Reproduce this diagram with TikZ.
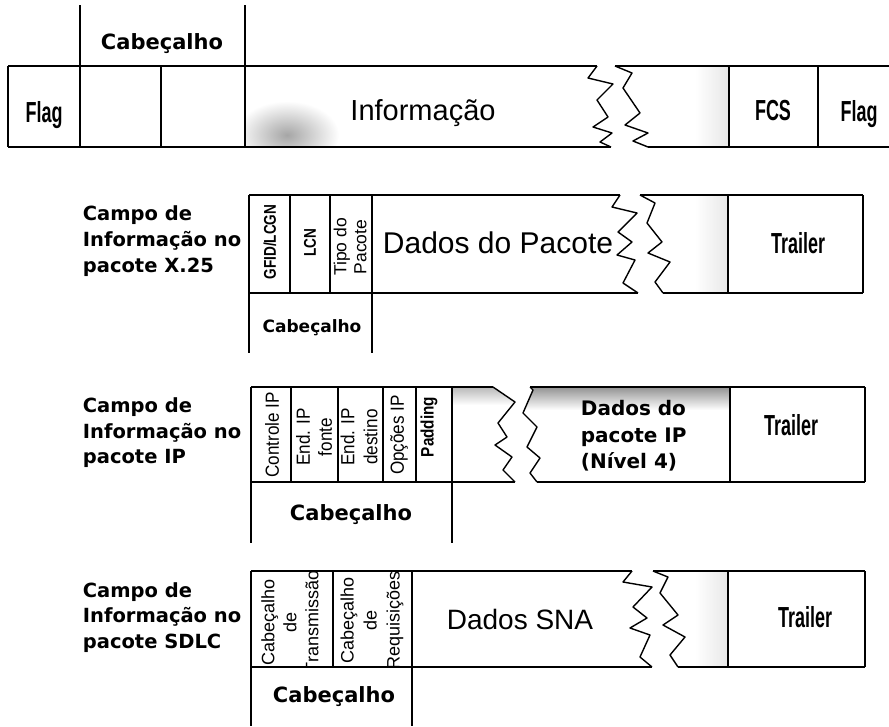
\documentclass[tikz,border=0pt]{standalone}
\usepackage{fontspec}
\usepackage{graphicx}
\setmainfont{Liberation Sans}
\newfontfamily\djfont{DejaVu Sans}
\newcommand\cnd[2][0.85]{\scalebox{#1}[1]{#2}}
\begin{document}
\begin{tikzpicture}[x=1pt,y=-1pt,line width=1.8pt,
  box/.style={line width=1.8pt},
  zig/.style={line width=1.4pt,line join=round},
  lbl/.style={font=\djfont\bfseries\fontsize{19.5}{24}\selectfont,anchor=base west,inner sep=0},
  cab/.style={font=\djfont\bfseries\fontsize{21}{25}\selectfont,anchor=base,inner sep=0},
  cabs/.style={font=\djfont\bfseries\fontsize{17}{20}\selectfont,anchor=base,inner sep=0},
  big/.style={font=\fontsize{29}{34}\selectfont,anchor=base,inner sep=0},
  cond/.style={font=\bfseries\fontsize{29}{33}\selectfont,anchor=base,inner sep=0},
  vbold/.style={rotate=90,inner sep=0,font=\bfseries\fontsize{17}{20}\selectfont},
  vreg/.style={rotate=90,inner sep=0,align=center},
]
\useasboundingbox (0,0) rectangle (889,726);

% ---------- shadings (scan tones) ----------
\begin{scope}
  \clip (245,66) rectangle (597,147);
  \shade[inner color=gray!70,outer color=white] (287,135) ellipse (52 and 34);
\end{scope}
\shade[left color=white,right color=gray!18,draw=none] (695,67) rectangle (728,146);
\shade[left color=white,right color=gray!18,draw=none] (695,196) rectangle (727,292);
\shade[left color=white,right color=gray!18,draw=none] (695,572) rectangle (727,666);
\begin{scope}
  \clip (530,387)--(730,387)--(730,482)--(537,482)--(530,473)--(540,458)--(527,447)--(537,427)--(523,413)--(533,390)--cycle;
  \shade[top color=gray!85,bottom color=white] (520,387) rectangle (730,410);
\end{scope}
\begin{scope}
  \clip (452,387)--(493,387)--(515,402)--(498,423)--(507,437)--(495,445)--(512,457)--(503,470)--(515,482)--(452,482)--cycle;
  \shade[top color=gray!55,bottom color=white] (452,387) rectangle (520,405);
\end{scope}

% ---------- row 1: frame ----------
\draw[box] (8,66) -- (597,66);
\draw[box] (8,147) -- (611,147);
\draw[box] (8,66) -- (8,147);
\draw[box] (615,66) -- (889,66);
\draw[box] (648,147) -- (889,147);
\draw[zig] (597,66)--(588,78)--(613,84)--(597,100)--(608,117)--(593,127)--(612,133)--(600,142)--(611,147);
\draw[zig] (615,66)--(632,73)--(623,88)--(640,113)--(625,125)--(648,133)--(633,141)--(648,147);
\draw[box] (80,5) -- (80,147);
\draw[box] (161,66) -- (161,147);
\draw[box] (245,5) -- (245,147);
\draw[box] (729,66) -- (729,147);
\draw[box] (818,66) -- (818,147);

\node[cab] (cab0) at (162,49) {Cabeçalho};
\node[cond] (flagL) at (44,122) {\cnd[0.62]{Flag}};
\node[big] (info) at (423,120) {Informação};
\node[cond] (fcs) at (773,120) {\cnd[0.62]{FCS}};
\node[cond] (flagR) at (859,121) {\cnd[0.62]{Flag}};

% ---------- row 2: X.25 ----------
\draw[box] (249,195) -- (620,195);
\draw[box] (640,195) -- (863,195);
\draw[box] (249,293) -- (638,293);
\draw[box] (663,293) -- (863,293);
\draw[zig] (620,195)--(612,207)--(637,213)--(618,232)--(632,242)--(617,255)--(635,260)--(623,283)--(638,293);
\draw[zig] (640,195)--(655,203)--(647,223)--(662,242)--(648,253)--(670,262)--(655,282)--(663,293);
\draw[box] (249,195) -- (249,353);
\draw[box] (290,195) -- (290,293);
\draw[box] (330,195) -- (330,293);
\draw[box] (372,195) -- (372,353);
\draw[box] (728,195) -- (728,293);
\draw[box] (863,195) -- (863,293);

\node[lbl] (l2a) at (82,220) {Campo de};
\node[lbl] (l2b) at (82,246) {Informação no};
\node[lbl] (l2c) at (82,272) {pacote X.25};
\node[vbold] (gfid) at (270,242) {\cnd[0.8]{GFID/LCGN}};
\node[vbold] (lcn) at (310,243) {\cnd[0.8]{LCN}};
\node[vreg,font=\fontsize{17.5}{20}\selectfont] (tipo) at (350,247) {Tipo do\\Pacote};
\node[big,font=\fontsize{30}{34}\selectfont] (dados2) at (498,253) {Dados do Pacote};
\node[cond] (tr2) at (798,253) {\cnd[0.62]{Trailer}};
\node[cabs] (cab2) at (312,332) {Cabeçalho};

% ---------- row 3: IP ----------
\draw[box] (251,387) -- (493,387);
\draw[box] (530,387) -- (865,387);
\draw[box] (251,482) -- (515,482);
\draw[box] (537,482) -- (865,482);
\draw[zig] (493,387)--(515,402)--(498,423)--(507,437)--(495,445)--(512,457)--(503,470)--(515,482);
\draw[zig] (530,387)--(533,390)--(523,413)--(537,427)--(527,447)--(540,458)--(530,473)--(537,482);
\draw[box] (251,387) -- (251,543);
\draw[box] (291,387) -- (291,482);
\draw[box] (338,387) -- (338,482);
\draw[box] (383,387) -- (383,482);
\draw[box] (416,387) -- (416,482);
\draw[box] (452,387) -- (452,543);
\draw[box] (730,387) -- (730,482);
\draw[box] (865,387) -- (865,482);

\node[lbl] (l3a) at (82,412) {Campo de};
\node[lbl] (l3b) at (82,438) {Informação no};
\node[lbl] (l3c) at (82,463) {pacote IP};
\node[vreg,font=\fontsize{19}{22}\selectfont] (ctl) at (272,435) {\cnd[0.9]{Controle IP}};
\node[vreg,font=\fontsize{19}{22}\selectfont] (src) at (314,437) {\cnd[0.9]{End. IP}\\\cnd[0.9]{fonte}};
\node[vreg,font=\fontsize{19}{23}\selectfont] (dst) at (359,437) {\cnd[0.9]{End. IP}\\\cnd[0.9]{destino}};
\node[vreg,font=\fontsize{19}{22}\selectfont] (opt) at (399,435) {\cnd[0.9]{Opções IP}};
\node[vbold,font=\bfseries\fontsize{18}{21}\selectfont] (pad) at (429,427) {\cnd[0.85]{Padding}};
\node[lbl,font=\djfont\bfseries\fontsize{20}{24}\selectfont] (d3a) at (580,415) {Dados do};
\node[lbl,font=\djfont\bfseries\fontsize{20}{24}\selectfont] (d3b) at (580,442) {pacote IP};
\node[lbl,font=\djfont\bfseries\fontsize{20}{24}\selectfont] (d3c) at (580,468) {(Nível 4)};
\node[cond] (tr3) at (791,435) {\cnd[0.62]{Trailer}};
\node[cab] (cab3) at (351,520) {Cabeçalho};

% ---------- row 4: SDLC ----------
\draw[box] (251,571) -- (632,571);
\draw[box] (653,571) -- (865,571);
\draw[box] (251,667) -- (652,667);
\draw[box] (678,667) -- (865,667);
\draw[zig] (632,571)--(623,582)--(652,587)--(633,607)--(647,618)--(630,628)--(650,635)--(640,657)--(652,667);
\draw[zig] (653,571)--(668,577)--(660,593)--(678,615)--(663,625)--(685,637)--(670,655)--(678,667);
\draw[box] (251,571) -- (251,726);
\draw[box] (333,571) -- (333,667);
\draw[box] (412,571) -- (412,726);
\draw[box] (728,571) -- (728,667);
\draw[box] (865,571) -- (865,667);

\node[lbl] (l4a) at (82,597) {Campo de};
\node[lbl] (l4b) at (82,622) {Informação no};
\node[lbl] (l4c) at (82,648) {pacote SDLC};
\begin{scope}
  \clip (252,572) rectangle (332,666);
  \node[vreg,font=\fontsize{18}{22}\selectfont] (ctx) at (290,622) {Cabeçalho\\de\\Transmissão};
\end{scope}
\begin{scope}
  \clip (334,572) rectangle (411,666);
  \node[vreg,font=\fontsize{18}{23}\selectfont] (crq) at (372,620) {Cabeçalho\\de\\Requisições};
\end{scope}
\node[big,font=\fontsize{28}{33}\selectfont] (dsna) at (520,629) {Dados SNA};
\node[cond] (tr4) at (805,627) {\cnd[0.62]{Trailer}};
\node[cab] (cab4) at (334,702) {Cabeçalho};
\end{tikzpicture}
\end{document}
